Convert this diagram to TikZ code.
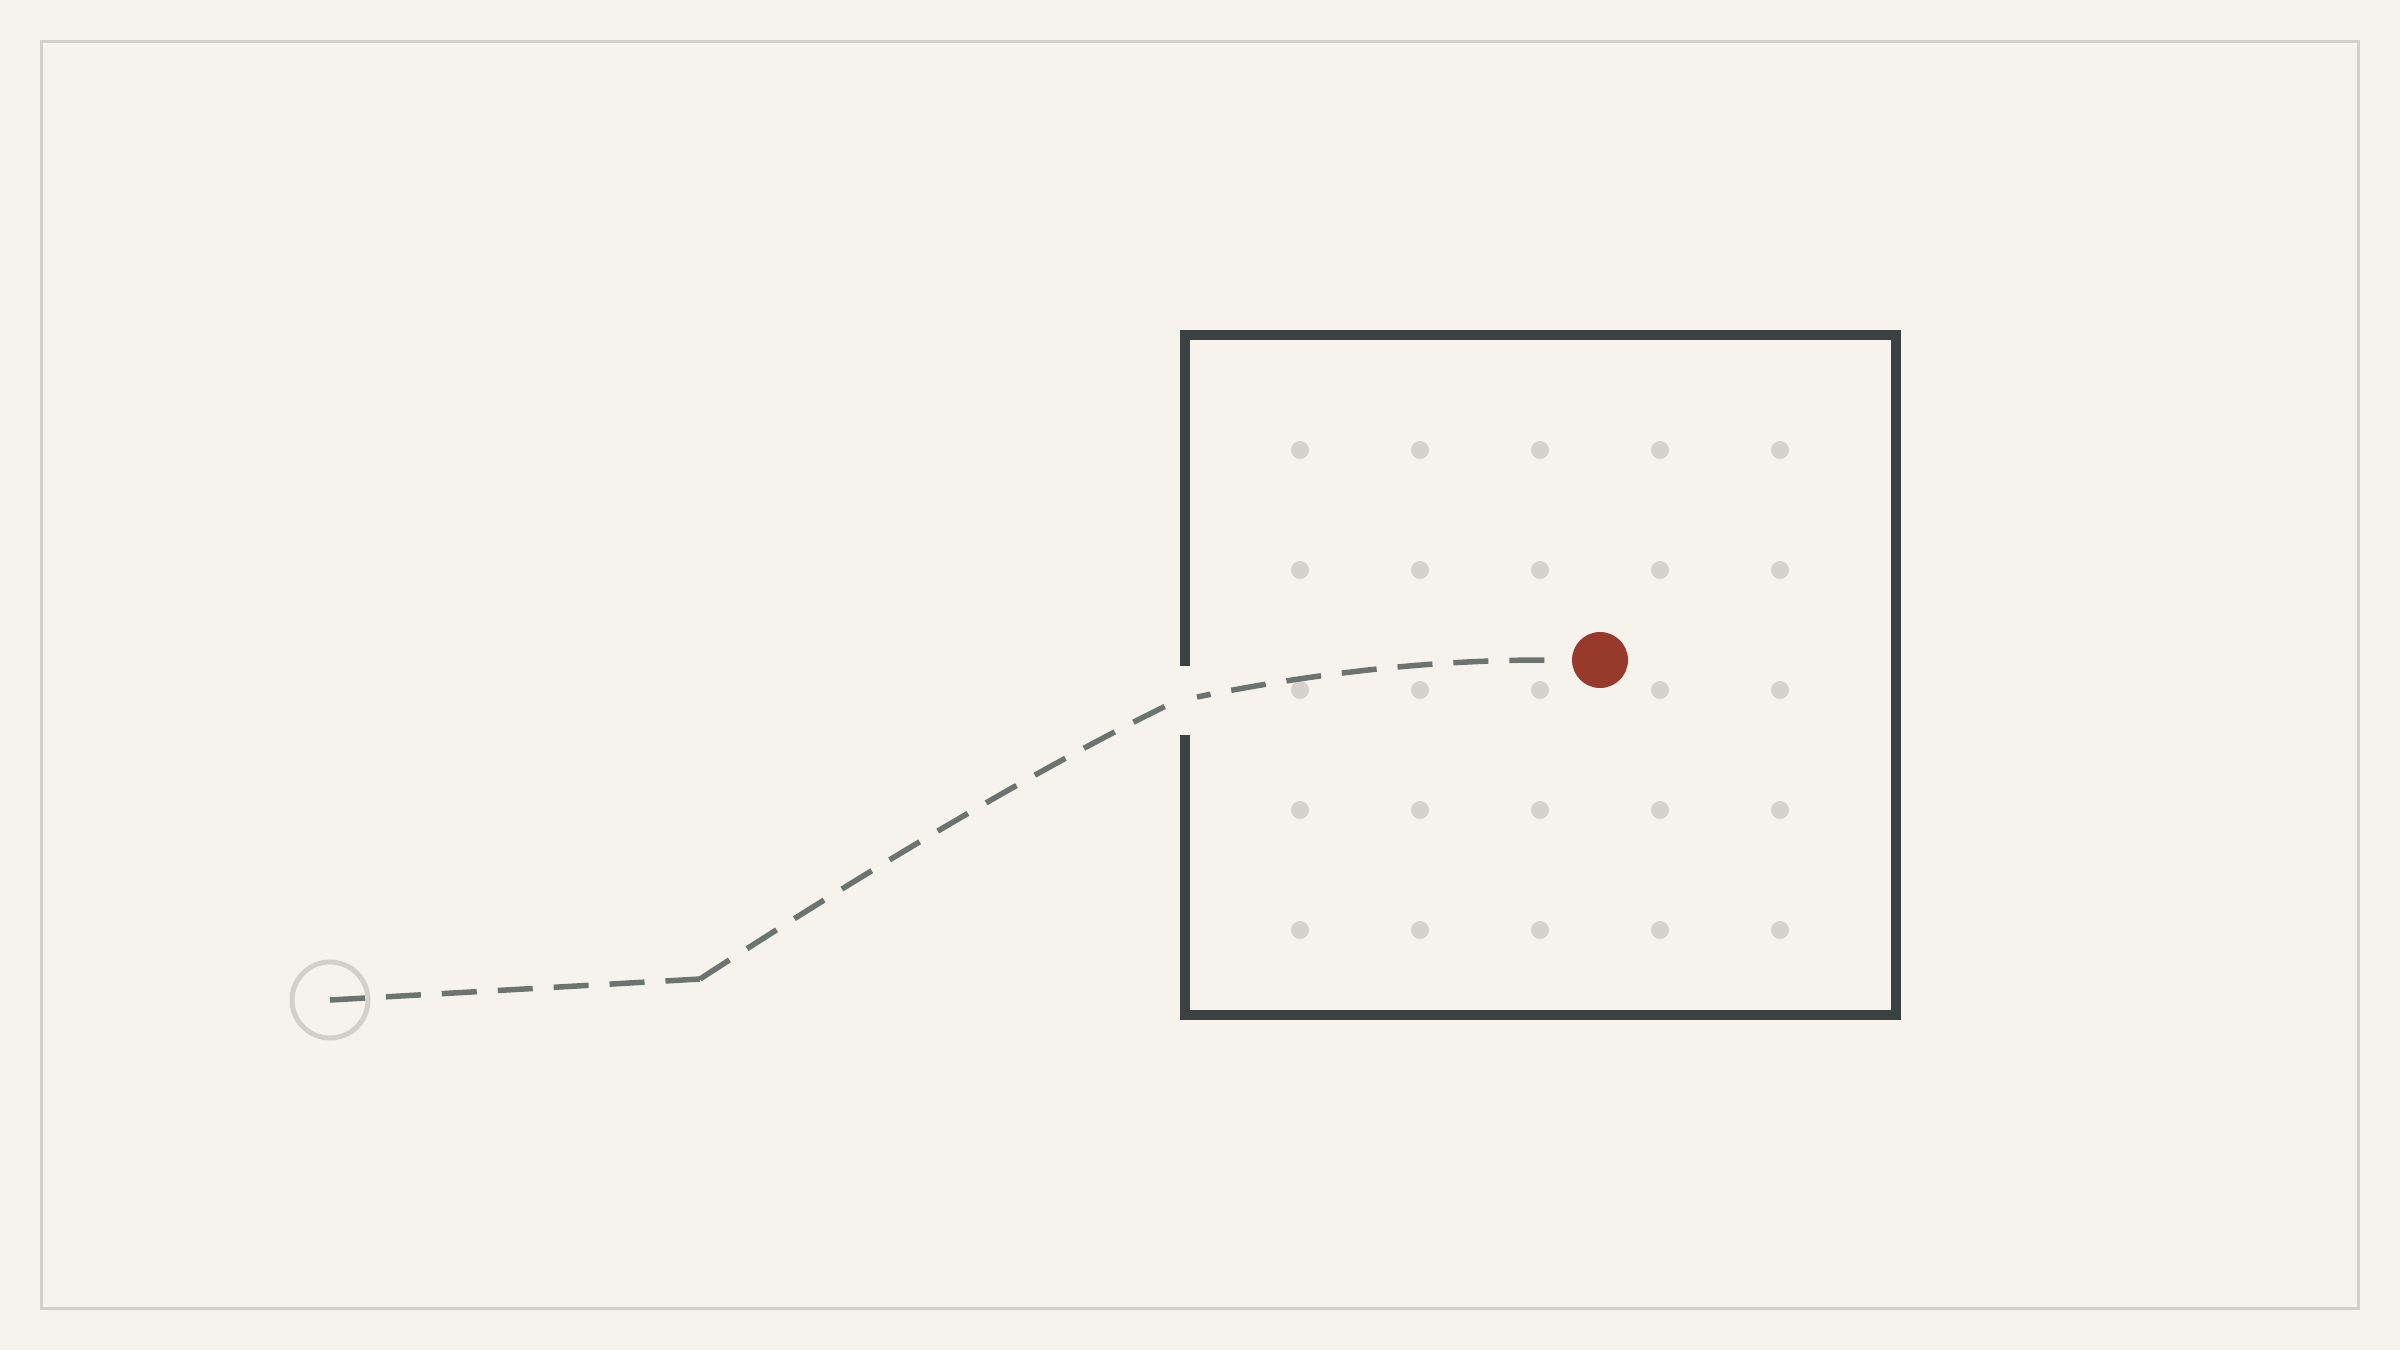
\documentclass[tikz,border=0pt]{standalone}
\definecolor{paper}{HTML}{F5F3EC}
\definecolor{rim}{HTML}{D3D0C8}
\definecolor{wallgrey}{HTML}{3A4141}
\definecolor{trail}{HTML}{6C746F}
\definecolor{peg}{HTML}{D5D2CB}
\definecolor{goalred}{HTML}{983A2B}
\begin{document}
\begin{tikzpicture}[x=0.1mm,y=-0.1mm]
\tikzstyle{rimline} = [draw=rim,line width=0.3mm]
\tikzstyle{wall} = [draw=wallgrey,line width=1mm]
\tikzstyle{peghole} = [fill=peg]
\tikzstyle{startring} = [circle,draw=rim,line width=0.5mm,minimum size=7.6mm,inner sep=0pt]
\tikzstyle{goal} = [circle,fill=goalred,minimum size=5.6mm,inner sep=0pt]
\tikzstyle{route} = [draw=trail,line width=0.55mm,dash pattern=on 3.5mm off 2.1mm]
\def\wl{1185}
\def\wr{1896}
\def\wt{335}
\def\wb{1015}
% page and frame
\fill[paper] (0,0) rectangle (2400,1350);
\useasboundingbox (0,0) rectangle (2400,1350);
\draw[rimline] (41.5,41.5) rectangle (2358.5,1308.5);
% room with a door on the left
\coordinate (doortop) at (\wl,666);
\coordinate (doorbot) at (\wl,735);
\draw[wall] (doortop) -- (\wl,\wt) -- (\wr,\wt) -- (\wr,\wb) -- (\wl,\wb) -- (doorbot);
% grid of pegs
\foreach \i in {0,...,4}
  \foreach \j in {0,...,4}
    \fill[peghole] (1300+120*\i,450+120*\j) circle (0.9mm);
% start and goal
\node[startring] (start) at (330,1000) {};
\node[goal] (goal) at (1600,660) {};
\coordinate (bend) at (700,979);
\coordinate (doorw) at (1176,701);
\coordinate (doore) at (1197,697);
\coordinate (goalend) at ([xshift=-2.7mm]goal.west);
% the route, in three legs
\draw[route] (start.center) -- (bend);
\draw[route] (bend) .. controls (880,862) and (1050,762) .. (doorw);
\draw[route] (goalend) .. controls (1420,660) and (1300,676) .. (doore);
\end{tikzpicture}
\end{document}
